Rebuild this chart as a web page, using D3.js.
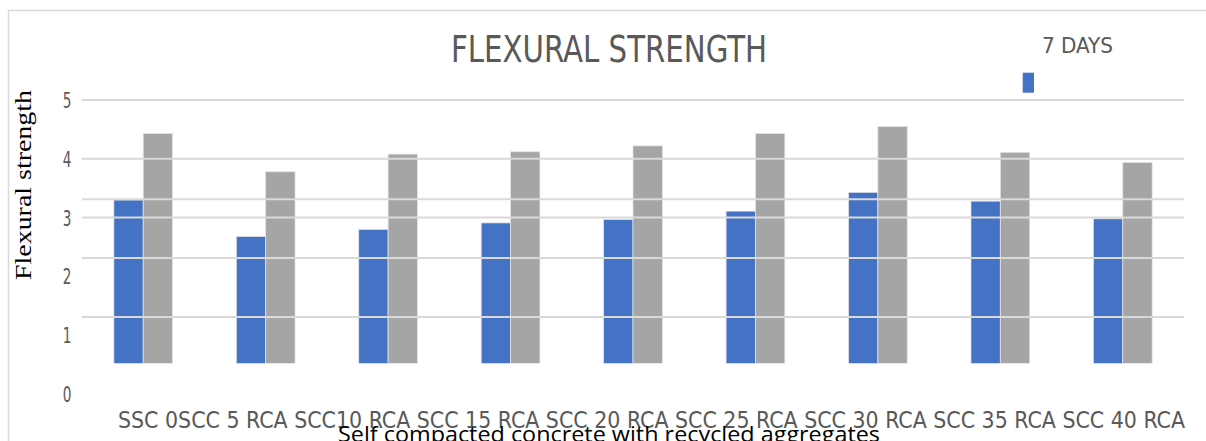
<!DOCTYPE html>
<html>
<head>
<meta charset="utf-8">
<script src="https://cdn.jsdelivr.net/npm/d3@7"></script>
<style>
  body { margin: 0; background: #fff; }
  svg { display: block; }
</style>
</head>
<body>
<div id="chart"></div>
<script>
// data
var categories = ["SSC 0", "SCC 5 RCA", "SCC10 RCA", "SCC 15 RCA", "SCC 20 RCA",
                  "SCC 25 RCA", "SCC 30 RCA", "SCC 35 RCA", "SCC 40 RCA"];
var seriesNames = ["7 DAYS", "28 DAYS"];
var days7  = [3.30, 2.68, 2.80, 2.91, 2.97, 3.11, 3.43, 3.28, 2.98];
var days28 = [4.43, 3.78, 4.08, 4.12, 4.22, 4.43, 4.55, 4.11, 3.94];
var yTicks = [0, 1, 2, 3, 4, 5];
var gridMain = [3, 4, 5];
var gridShifted = [1, 2, 3];

var width = 1206, height = 441;
var colors = ["#4472C4", "#A5A5A5"];
var narrow = "'DejaVu Sans Condensed', 'Liberation Sans Narrow', 'DejaVu Sans', sans-serif";

var svg = d3.select("#chart")
  .append("svg")
    .attr("width", width)
    .attr("height", height);

// outer frame
svg.append("rect")
  .attr("x", 8.5).attr("y", 10.5)
  .attr("width", width + 20).attr("height", height + 20)
  .attr("fill", "none")
  .attr("stroke", "#d9d9d9")
  .attr("stroke-width", 1.5);

// scales
var x0 = d3.scaleBand()
  .domain(categories)
  .range([82, 1184])
  .paddingInner(0.52)
  .paddingOuter(0.26);

var x1 = d3.scaleBand()
  .domain(seriesNames)
  .range([0, x0.bandwidth()]);

var y = d3.scaleLinear()
  .domain([0, 5])
  .range([394, 100]);

// second (misaligned) grid layer in the picture
var y2 = d3.scaleLinear()
  .domain([0, 5])
  .range([394 - 18.3, 100 - 18.3]);

var rows = categories.map(function(c, i) {
  return {cat: c, values: [days7[i], days28[i]]};
});

// clip so bars stop at the picture's floor
svg.append("clipPath")
  .attr("id", "plotclip")
  .append("rect")
    .attr("x", 0).attr("y", 0)
    .attr("width", width).attr("height", 363.3);

var bars = svg.append("g").attr("clip-path", "url(#plotclip)");
bars.selectAll("g")
  .data(rows)
  .enter()
  .append("g")
    .attr("transform", function(d) { return "translate(" + x0(d.cat) + ",0)"; })
  .selectAll("rect")
  .data(function(d) { return d.values.map(function(v, j) { return {name: seriesNames[j], v: v, j: j}; }); })
  .enter()
  .append("rect")
    .attr("x", function(d) { return x1(d.name); })
    .attr("y", function(d) { return y(d.v); })
    .attr("width", x1.bandwidth())
    .attr("height", function(d) { return y(0) - y(d.v); })
    .attr("fill", function(d) { return colors[d.j]; })
    .attr("stroke", "#e4e4e4")
    .attr("stroke-width", 0.8);

// gridlines (drawn over bars, as in the picture)
var grid = svg.append("g");
grid.selectAll("line.g1")
  .data(gridMain)
  .enter()
  .append("line")
    .attr("class", "g1")
    .attr("x1", 82).attr("x2", 1184)
    .attr("y1", function(d) { return y(d); })
    .attr("y2", function(d) { return y(d); })
    .attr("stroke", "#d9d9d9")
    .attr("stroke-width", 2);
grid.selectAll("line.g2")
  .data(gridShifted)
  .enter()
  .append("line")
    .attr("class", "g2")
    .attr("x1", 82).attr("x2", 1184)
    .attr("y1", function(d) { return y2(d); })
    .attr("y2", function(d) { return y2(d); })
    .attr("stroke", "#d9d9d9")
    .attr("stroke-width", 2);

// y tick labels (narrow glyphs)
svg.append("g")
  .selectAll("text")
  .data(yTicks)
  .enter()
  .append("text")
    .attr("transform", function(d) { return "translate(67," + (y(d) + 8) + ") scale(0.72,1)"; })
    .attr("text-anchor", "middle")
    .style("font-family", narrow)
    .style("font-size", "21px")
    .attr("fill", "#595959")
    .text(function(d) { return d; });

// x category labels, run together as in the picture
var xl = svg.append("text")
  .attr("x", 118)
  .attr("y", 428)
  .attr("textLength", 1067)
  .attr("lengthAdjust", "spacingAndGlyphs")
  .style("font-family", narrow)
  .style("font-size", "22.5px")
  .attr("fill", "#595959");
xl.selectAll("tspan")
  .data(categories)
  .enter()
  .append("tspan")
    .text(function(d, i) { return (i < 2 ? "" : " ") + d; });

// x axis title
svg.append("text")
  .attr("x", 338)
  .attr("y", 442)
  .attr("textLength", 542)
  .attr("lengthAdjust", "spacingAndGlyphs")
  .style("font-family", "'Open Sans', sans-serif")
  .style("font-size", "21px")
  .attr("fill", "#000")
  .text("Self compacted concrete with recycled aggregates");

// y axis title
svg.append("text")
  .attr("transform", "translate(31,280) rotate(-90)")
  .attr("textLength", 190)
  .attr("lengthAdjust", "spacingAndGlyphs")
  .style("font-family", "'Liberation Serif', serif")
  .style("font-size", "23px")
  .attr("fill", "#000")
  .text("Flexural strength");

// title
svg.append("text")
  .attr("x", 451)
  .attr("y", 62)
  .attr("textLength", 316)
  .attr("lengthAdjust", "spacingAndGlyphs")
  .style("font-family", narrow)
  .style("font-size", "37px")
  .attr("fill", "#595959")
  .text("FLEXURAL STRENGTH");

// legend (only the first series appears)
svg.append("text")
  .attr("x", 1042)
  .attr("y", 53)
  .attr("textLength", 71)
  .attr("lengthAdjust", "spacingAndGlyphs")
  .style("font-family", narrow)
  .style("font-size", "22px")
  .attr("fill", "#595959")
  .text(seriesNames[0]);
svg.append("rect")
  .attr("x", 1022.7).attr("y", 72.7)
  .attr("width", 11.3).attr("height", 20)
  .attr("fill", colors[0]);
</script>
</body>
</html>
